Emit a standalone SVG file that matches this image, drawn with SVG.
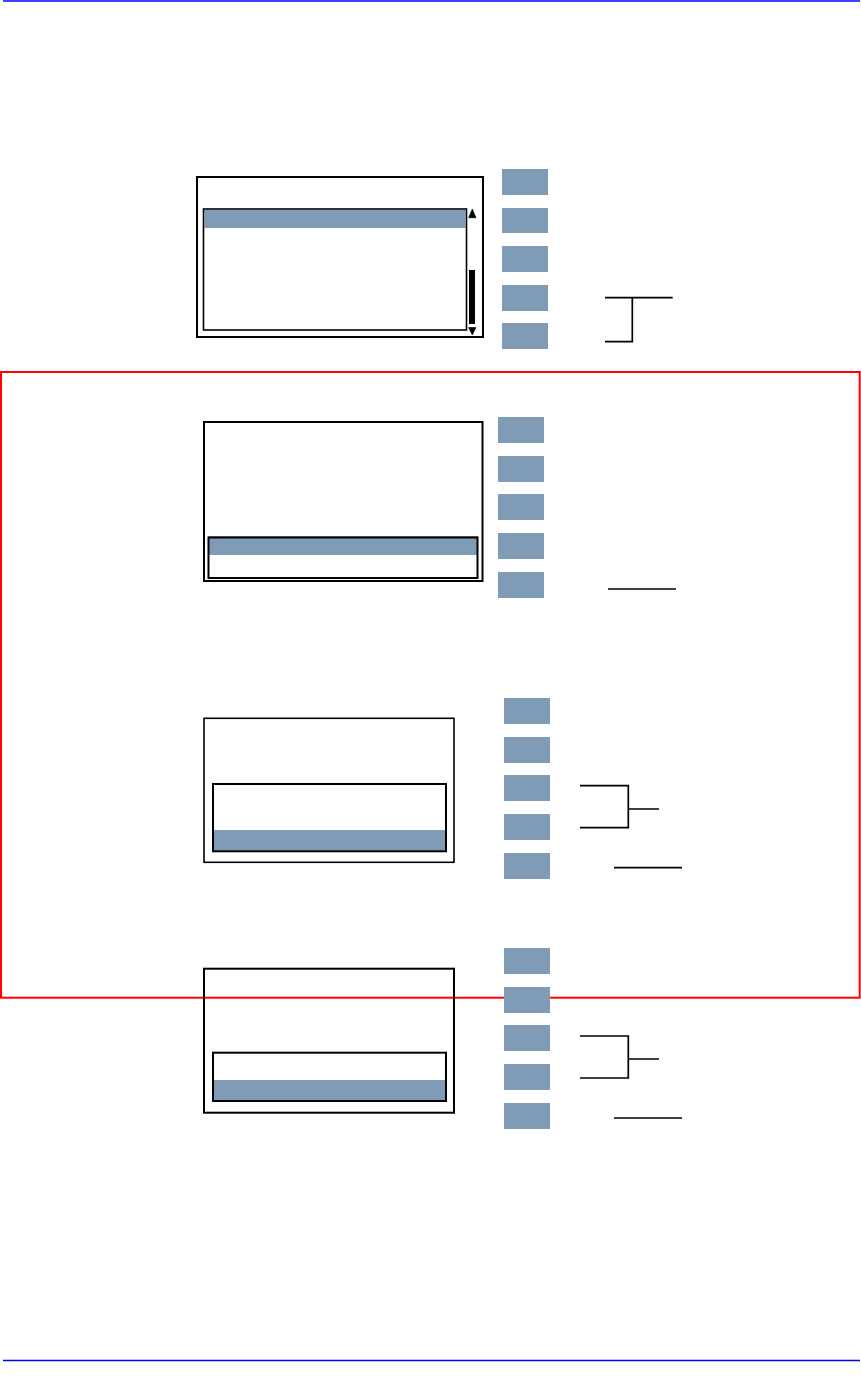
<svg xmlns="http://www.w3.org/2000/svg" width="861" height="1378" viewBox="0 0 861 1378">
<style>
.hl{fill:#809bb5}
.btn{fill:#809bb5}
.frame{fill:none;stroke:#000;stroke-width:2}
.thin{fill:none;stroke:#000;stroke-width:1.6}
.ln{fill:none;stroke:#000;stroke-width:1.7}
.page{stroke:#0000ff;stroke-width:1.3}
</style>
<rect width="861" height="1378" fill="#fff"/>
<line class="page" x1="3" y1="1" x2="860" y2="1"/>
<line class="page" x1="3" y1="1360.5" x2="860" y2="1360.5"/>

<g id="screen1">
  <rect class="frame" x="197" y="177" width="286" height="160"/>
  <rect class="hl" x="204.5" y="210" width="261" height="18"/>
  <rect class="thin" x="203.5" y="209" width="263" height="121"/>
  <rect x="469" y="270" width="6" height="54" fill="#000"/>
  <polygon points="472.3,209 468.6,217.8 476,217.8" fill="#000" stroke="#000" stroke-width="0.6"/>
  <polygon points="472.3,335 468.6,327.5 476,327.5" fill="#000" stroke="#000" stroke-width="0.6"/>
</g>
<g id="buttons1">
  <rect class="btn" x="502" y="169" width="46" height="26"/>
  <rect class="btn" x="502" y="208" width="46" height="25"/>
  <rect class="btn" x="502" y="246" width="46" height="26"/>
  <rect class="btn" x="502" y="285" width="46" height="26"/>
  <rect class="btn" x="502" y="323" width="46" height="26"/>
</g>

<rect id="highlight-frame" x="1" y="372" width="858.7" height="625.7" fill="none" stroke="#ff0000" stroke-width="2"/>

<g id="screen2">
  <rect class="frame" x="204" y="422" width="278.5" height="159"/>
  <rect class="hl" x="208" y="536" width="270" height="19"/>
  <rect class="frame" x="208.5" y="537.5" width="269" height="40.5"/>
</g>
<g id="buttons2">
  <rect class="btn" x="498" y="417" width="46" height="26"/>
  <rect class="btn" x="498" y="456" width="46" height="26"/>
  <rect class="btn" x="498" y="494" width="46" height="26"/>
  <rect class="btn" x="498" y="533" width="46" height="26"/>
  <rect class="btn" x="498" y="572" width="46" height="26"/>
</g>

<g id="screen3">
  <rect class="thin" x="204" y="718.3" width="250" height="144"/>
  <rect class="hl" x="213" y="830" width="233" height="21"/>
  <rect class="frame" x="213" y="784" width="233" height="67.3"/>
</g>
<g id="buttons3">
  <rect class="btn" x="504" y="698" width="46" height="26"/>
  <rect class="btn" x="504" y="737" width="46" height="26"/>
  <rect class="btn" x="504" y="775" width="46" height="26"/>
  <rect class="btn" x="504" y="814" width="46" height="26"/>
  <rect class="btn" x="504" y="853" width="46" height="26"/>
</g>

<g id="screen4">
  <rect class="frame" x="204" y="968.7" width="250" height="144"/>
  <rect class="hl" x="213" y="1080" width="233" height="21"/>
  <rect class="frame" x="213" y="1052.7" width="233" height="48.3"/>
</g>
<g id="buttons4">
  <rect class="btn" x="504" y="948" width="46" height="26"/>
  <rect class="btn" x="504" y="987" width="46" height="26"/>
  <rect class="btn" x="504" y="1025" width="46" height="26"/>
  <rect class="btn" x="504" y="1064" width="46" height="26"/>
  <rect class="btn" x="504" y="1103" width="46" height="26"/>
</g>

<g id="connectors">
  <path class="ln" d="M605 297.7 H672.7 M632.3 297.7 V341.7 H605"/>
  <path class="ln" d="M608 589 H676"/>
  <path class="ln" d="M580 785.7 H628.3 V827.7 H580 M628.3 809 H659"/>
  <path class="ln" d="M614 867.7 H682"/>
  <path class="ln" d="M580 1036 H628.3 V1078 H580 M628.3 1059 H659"/>
  <path class="ln" d="M614 1118 H682"/>
</g>
</svg>
